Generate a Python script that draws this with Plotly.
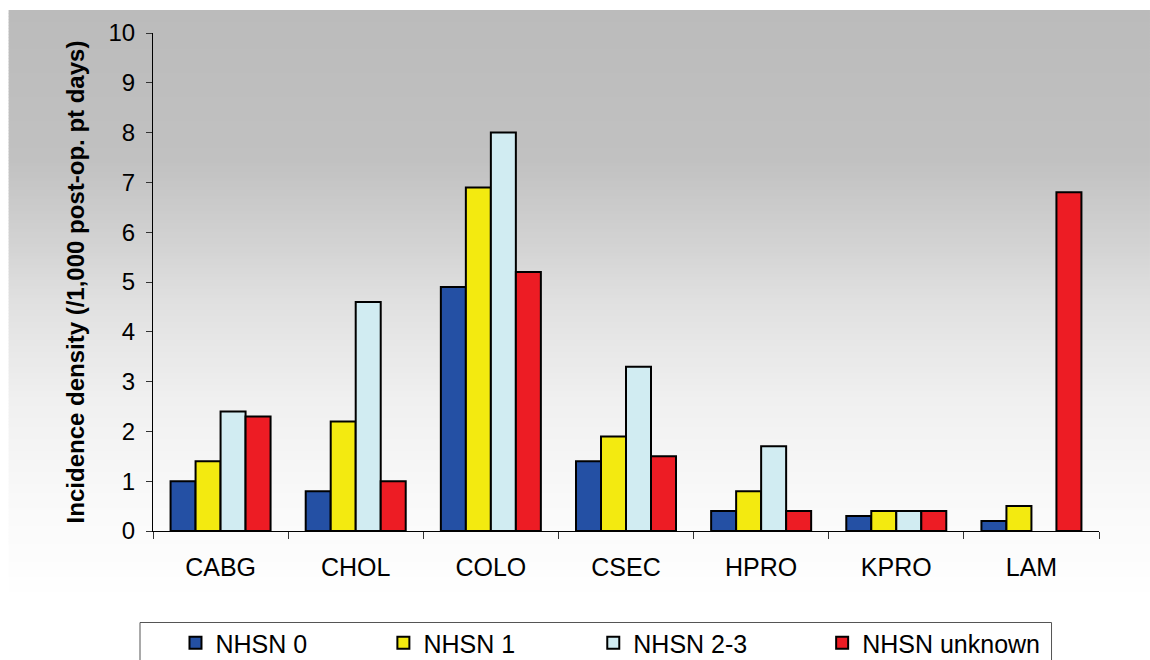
import plotly.graph_objects as go

# Surgical procedure categories and incidence density per NHSN risk index
procedures = ["CABG", "CHOL", "COLO", "CSEC", "HPRO", "KPRO", "LAM"]
nhsn_0 = [1.0, 0.8, 4.9, 1.4, 0.4, 0.3, 0.2]
nhsn_1 = [1.4, 2.2, 6.9, 1.9, 0.8, 0.4, 0.5]
nhsn_2_3 = [2.4, 4.6, 8.0, 3.3, 1.7, 0.4, None]
nhsn_unknown = [2.3, 1.0, 5.2, 1.5, 0.4, 0.4, 6.8]

series_names = ["NHSN 0", "NHSN 1", "NHSN 2-3", "NHSN unknown"]
series_values = [nhsn_0, nhsn_1, nhsn_2_3, nhsn_unknown]
series_colors = ["#2450A4", "#F3EA10", "#D1ECF2", "#ED1C24"]

y_ticks = [0, 1, 2, 3, 4, 5, 6, 7, 8, 9, 10]

W, H = 1150, 660
L, R, T, B = 152.5, 1099.0, 33.0, 531.0  # plot area in pixels


def px_x(x):
    return (x - L) / (R - L)


def px_y(y):
    return (B - y) / (B - T)


# one legend block per series so each key sits at its own spot in the frame
legend_ids = ["legend", "legend2", "legend3", "legend4"]
legend_left = [175, 383, 593, 822]

fig = go.Figure()
for name, vals, col, lid in zip(series_names, series_values, series_colors, legend_ids):
    fig.add_trace(go.Bar(
        x=procedures, y=vals, name=name, legend=lid,
        marker=dict(color=col, line=dict(color="#000000", width=2)),
    ))

# vertical grey-to-white gradient behind the chart
stops = [(10, 187), (160, 193), (250, 212), (300, 224), (400, 240),
         (500, 249), (570, 253), (600, 255)]


def grey_at(y):
    for (y0, g0), (y1, g1) in zip(stops[:-1], stops[1:]):
        if y0 <= y <= y1:
            return g0 + (g1 - g0) * (y - y0) / (y1 - y0)
    return 255


shapes = []
step = 3
y = 10
while y < 600:
    g = int(round(grey_at(y + step / 2)))
    shapes.append(dict(
        type="rect", xref="paper", yref="paper", layer="below",
        x0=px_x(8), x1=px_x(W), y0=px_y(y + step + 0.5), y1=px_y(y),
        fillcolor=f"rgb({g},{g},{g})", line=dict(width=0),
    ))
    y += step

# frame around the legend
shapes.append(dict(
    type="rect", xref="paper", yref="paper", layer="below",
    x0=px_x(139.5), x1=px_x(1051.5), y0=px_y(670), y1=px_y(622.5),
    fillcolor="white", line=dict(color="#555555", width=1),
))

legend_style = dict(
    orientation="h", xanchor="left", yanchor="top",
    borderwidth=0, bgcolor="rgba(0,0,0,0)",
    font=dict(size=25),
)
legends = {}
for lid, lx in zip(legend_ids, legend_left):
    legends[lid] = dict(legend_style, x=px_x(lx), y=px_y(620))

fig.update_layout(
    width=W, height=H,
    margin=dict(l=L, r=W - R, t=T, b=H - B, autoexpand=False),
    paper_bgcolor="white",
    plot_bgcolor="rgba(0,0,0,0)",
    barmode="group",
    bargap=0.26,
    bargroupgap=0,
    shapes=shapes,
    font=dict(family="Liberation Sans, Arial, sans-serif", color="#000000"),
    showlegend=True,
    xaxis=dict(
        showline=True, linecolor="#000000", linewidth=1,
        ticks="outside", ticklen=7, tickcolor="#333333",
        tickson="boundaries", showgrid=False,
        tickfont=dict(size=25), ticklabelstandoff=14,
    ),
    yaxis=dict(
        range=[0, 10], tickvals=y_ticks,
        showline=True, linecolor="#000000", linewidth=1,
        ticks="outside", ticklen=6, tickcolor="#333333",
        showgrid=False, zeroline=False,
        tickfont=dict(size=24), ticklabelstandoff=6,
        title=dict(text="<b>Incidence density (/1,000 post-op. pt days)</b>",
                   font=dict(size=24), standoff=17),
    ),
    **legends,
)

fig.write_html("out.html")
